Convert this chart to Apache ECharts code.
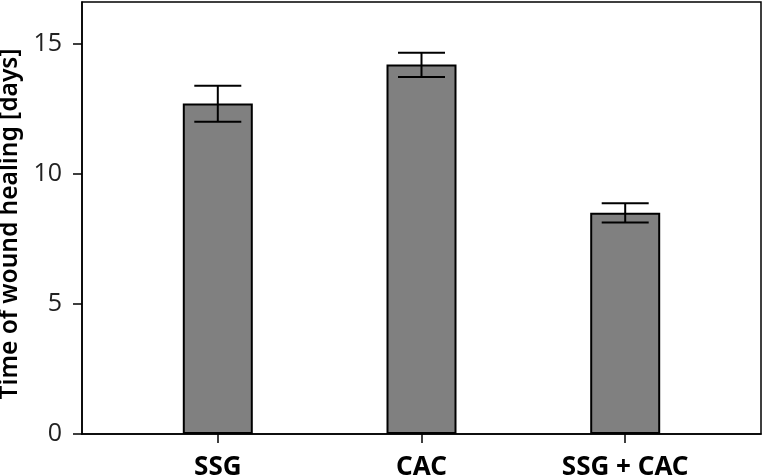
<!DOCTYPE html>
<html><head><meta charset="utf-8">
<script src="https://cdn.jsdelivr.net/npm/echarts@6/dist/echarts.min.js"></script>
<style>html,body{margin:0;padding:0;background:#fff}#c{width:763px;height:476px}</style>
</head><body><div id="c"></div>
<script>
const categories = ['SSG', 'CAC', 'SSG + CAC'];
const positions = [1, 2, 3];
const means = [12.7, 14.2, 8.5];
const errLow = [12.0, 13.72, 8.13];
const errHigh = [13.38, 14.65, 8.87];
const yTicks = [0, 5, 10, 15];
const yTitle = 'Time of wound healing [days]';

const barData = positions.map((p, i) => [p, means[i]]);
const errData = positions.map((p, i) => [p, errLow[i], errHigh[i]]);

const chart = echarts.init(document.getElementById('c'), null, {renderer: 'canvas'});
chart.setOption({
  animation: false,
  backgroundColor: '#fff',
  grid: {left: 82, right: 2, top: 2, bottom: 42, show: true, borderColor: '#000', borderWidth: 1.5, containLabel: false, outerBoundsMode: 'none'},
  xAxis: {
    type: 'value', min: 1/3, max: 11/3,
    splitLine: {show: false},
    axisLine: {show: true, onZero: false, lineStyle: {color: '#000', width: 1.5}},
    axisTick: {show: true, customValues: positions, length: 9, lineStyle: {color: '#000', width: 1.5}},
    axisLabel: {customValues: positions, formatter: v => categories[Math.round(v) - 1], color: '#000', fontFamily: 'Noto Sans', fontWeight: 'bold', fontSize: 26, margin: 21}
  },
  yAxis: {
    type: 'value', min: 0, max: 16.6,
    splitLine: {show: false},
    axisLine: {show: true, lineStyle: {color: '#000', width: 1.5}},
    axisTick: {show: true, customValues: yTicks, length: 9, lineStyle: {color: '#000', width: 1.5}},
    axisLabel: {customValues: yTicks, color: '#222', fontFamily: 'Open Sans', fontSize: 25, margin: 20},
    name: yTitle, nameLocation: 'middle', nameGap: 55,
    nameTextStyle: {color: '#000', fontFamily: 'Noto Sans', fontSize: 24.5, fontWeight: 600, padding: [0, 12, 0, 0]}
  },
  series: [
    {
      type: 'bar', data: barData, barWidth: 70,
      itemStyle: {color: '#808080', borderColor: '#000', borderWidth: 2}
    },
    {
      type: 'custom', data: errData, z: 5,
      renderItem: function (params, api) {
        const x = api.value(0), lo = api.value(1), hi = api.value(2);
        const pLo = api.coord([x, lo]), pHi = api.coord([x, hi]);
        const hw = 23.5;
        const st = {stroke: '#000', lineWidth: 2};
        return {type: 'group', children: [
          {type: 'line', shape: {x1: pLo[0], y1: pLo[1], x2: pHi[0], y2: pHi[1]}, style: st},
          {type: 'line', shape: {x1: pHi[0] - hw, y1: pHi[1], x2: pHi[0] + hw, y2: pHi[1]}, style: st},
          {type: 'line', shape: {x1: pLo[0] - hw, y1: pLo[1], x2: pLo[0] + hw, y2: pLo[1]}, style: st}
        ]};
      }
    }
  ]
});
</script></body></html>
